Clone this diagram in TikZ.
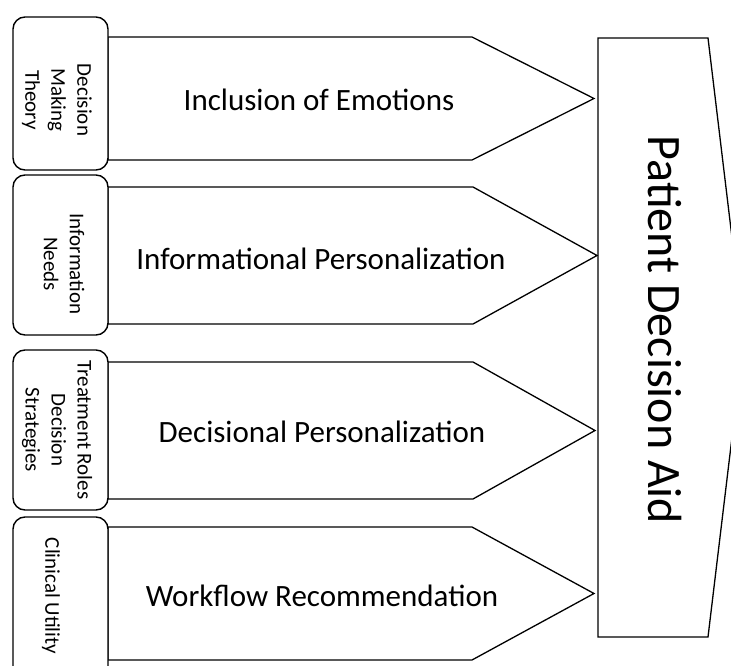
\documentclass[tikz,border=0pt]{standalone}
\usepackage{fontspec}
\setmainfont{Carlito}
\begin{document}
\begin{tikzpicture}[x=1pt,y=-1pt,
  outline/.style={draw=black,line width=1.3pt,line join=miter},
  sidebox/.style={draw=black,line width=1.4pt,fill=white,rounded corners=12pt},
  sidetext/.style={rotate=-90,align=center,font=\fontsize{21}{26}\selectfont,inner sep=0pt},
  midtext/.style={font=\fontsize{31}{37}\selectfont,inner sep=0pt},
  bigtext/.style={rotate=-90,font=\fontsize{48}{54}\selectfont,inner sep=0pt}]
\useasboundingbox (0,0) rectangle (731,666);
\clip (0,0) rectangle (731,666);
% arrows
\draw[outline] (108,37) -- (472,37) -- (594,98.5) -- (472,160) -- (108,160) -- cycle;
\draw[outline] (108,187) -- (473,187) -- (597,255.5) -- (473,324) -- (108,324) -- cycle;
\draw[outline] (108,362) -- (473,362) -- (595,430.5) -- (473,499) -- (108,499) -- cycle;
\draw[outline] (108,527) -- (472,527) -- (594,593.5) -- (472,660) -- (108,660) -- cycle;
% side boxes
\draw[sidebox] (13,17) rectangle (108,170);
\draw[sidebox] (13,175) rectangle (108,335);
\draw[sidebox] (13,350) rectangle (108,510);
\draw[sidebox] (13,517) rectangle (108,690);
% big box
\draw[outline] (598,38) -- (708,38) -- (744,337.5) -- (708,637) -- (598,637) -- cycle;
% texts
\node[sidetext] (s1) at (57,100) {Decision\\Making\\Theory};
\node[sidetext] (s2) at (64,264) {Information\\Needs};
\node[sidetext] (s3) at (57,430) {Treatment Roles\\Decision\\Strategies};
\node[sidetext] (s4) at (51,596) {Clinical Utility};
\node[midtext] (m1) at (319,100) {Inclusion of Emotions};
\node[midtext] (m2) at (321,259) {Informational Personalization};
\node[midtext] (m3) at (322,432) {Decisional Personalization};
\node[midtext] (m4) at (322,596) {Workflow Recommendation};
\node[bigtext] (pda) at (665,330) {Patient Decision Aid};
\end{tikzpicture}
\end{document}
